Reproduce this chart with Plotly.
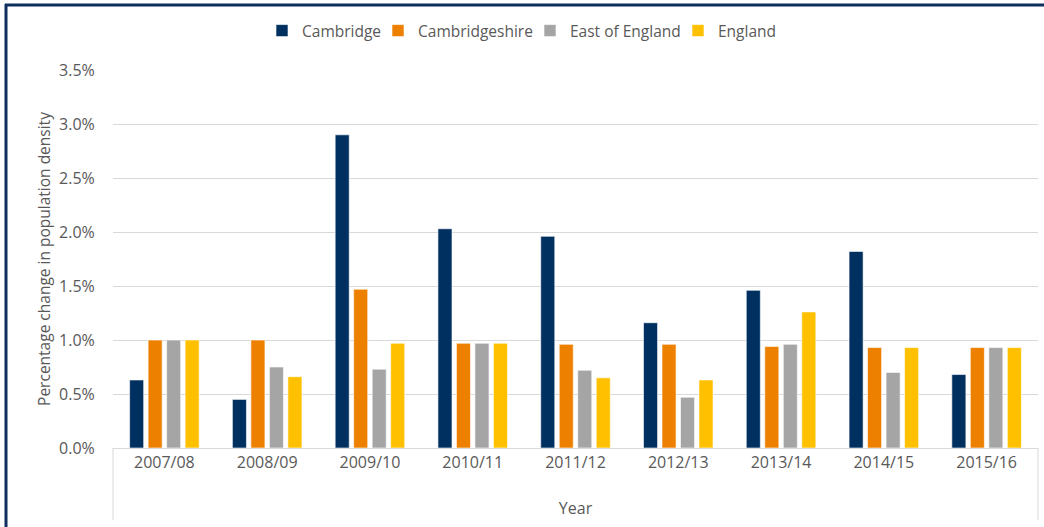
import plotly.graph_objects as go

years = ["2007/08", "2008/09", "2009/10", "2010/11", "2011/12",
         "2012/13", "2013/14", "2014/15", "2015/16"]
cambridge = [0.0063, 0.0045, 0.0290, 0.0203, 0.0196, 0.0116, 0.0146, 0.0182, 0.0068]
cambridgeshire = [0.0100, 0.0100, 0.0147, 0.0097, 0.0096, 0.0096, 0.0094, 0.0093, 0.0093]
east_of_england = [0.0100, 0.0075, 0.0073, 0.0097, 0.0072, 0.0047, 0.0096, 0.0070, 0.0093]
england = [0.0100, 0.0066, 0.0097, 0.0097, 0.0065, 0.0063, 0.0126, 0.0093, 0.0093]

series_names = ["Cambridge", "Cambridgeshire", "East of England", "England"]
series_values = [cambridge, cambridgeshire, east_of_england, england]
series_colors = ["#003060", "#EE8000", "#A5A5A5", "#FFC000"]

y_ticks = [0, 0.005, 0.010, 0.015, 0.020, 0.025, 0.030, 0.035]

FONT = "Open Sans"
TXT = "#595959"

# plot area: x 113..1038, y 70..448
L, R, T, B = 113, 1038, 70, 448
W, H = R - L, B - T

def px(x):
    return (x - L) / W

def py(y):
    return (B - y) / H

legend_ids = ["legend", "legend2", "legend3", "legend4"]
legend_left = [262, 378, 530, 678]

fig = go.Figure()
for name, vals, col, lid in zip(series_names, series_values, series_colors, legend_ids):
    fig.add_trace(go.Bar(
        x=years, y=vals, name=name, legend=lid,
        marker=dict(color=col, line=dict(color="rgba(255,255,255,0.6)", width=1)),
    ))

shapes = [
    # category axis box sides (Excel style)
    dict(type="line", xref="paper", yref="paper", x0=0, x1=0, y0=0, y1=py(520),
         line=dict(color="#D9D9D9", width=1)),
    dict(type="line", xref="paper", yref="paper", x0=1, x1=1, y0=0, y1=py(520),
         line=dict(color="#D9D9D9", width=1)),
    # navy frame (top and left)
    dict(type="line", xref="paper", yref="paper", x0=px(5), x1=px(1044), y0=py(5), y1=py(5),
         line=dict(color="#0E2E5E", width=3)),
    dict(type="line", xref="paper", yref="paper", x0=px(6), x1=px(6), y0=py(4), y1=py(527),
         line=dict(color="#0E2E5E", width=3)),
]

legend_layout = {}
for lid, left in zip(legend_ids, legend_left):
    legend_layout[lid] = dict(
        orientation="h", x=px(left), xanchor="left", y=py(31), yanchor="middle",
        font=dict(family=FONT, size=15.5, color=TXT), itemwidth=30,
        bgcolor="rgba(0,0,0,0)",
    )

fig.update_layout(
    width=1044, height=527,
    margin=dict(l=L, r=1044 - R, t=T, b=527 - B),
    paper_bgcolor="white", plot_bgcolor="white",
    barmode="group", bargap=0.28, bargroupgap=0.24,
    font=dict(family=FONT, size=15, color=TXT),
    showlegend=True,
    xaxis=dict(
        type="category", showgrid=False, showline=True, linecolor="#D9D9D9", linewidth=1,
        ticks="", tickfont=dict(family=FONT, size=16, color=TXT),
        title=dict(text="Year", font=dict(family=FONT, size=16, color=TXT), standoff=30),
    ),
    yaxis=dict(
        range=[0, 0.035], tickvals=y_ticks, tickformat=".1%",
        showgrid=True, gridcolor="#D9D9D9", gridwidth=1, zeroline=False, showline=False,
        ticks="outside", ticklen=14, tickcolor="rgba(0,0,0,0)",
        tickfont=dict(family=FONT, size=16, color=TXT),
        title=dict(text="Percentage change in population density",
                   font=dict(family=FONT, size=15.5, color=TXT), standoff=4),
    ),
    shapes=shapes,
    **legend_layout,
)

fig.write_html("out.html", config={"displayModeBar": False},
               post_script="document.body.style.margin='0';document.body.style.padding='0';")
